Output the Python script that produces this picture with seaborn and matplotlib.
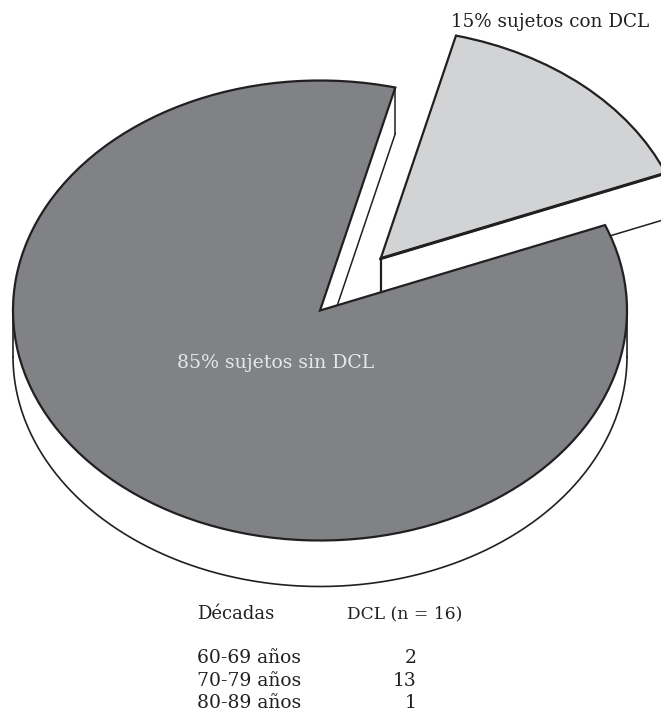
import numpy as np
import matplotlib
matplotlib.use("Agg")
import matplotlib.pyplot as plt
import seaborn as sns

shares = [15, 85]
share_labels = ["15% sujetos con DCL", "85% sujetos sin DCL"]
decades = ["60-69 años", "70-79 años", "80-89 años"]
dcl_counts = [2, 13, 1]
table_headers = ["Décadas", "DCL (n = 16)"]

W, H = 661, 712
sns.set_theme(style="white")
plt.rcParams["font.family"] = ["DejaVu Serif"]
palette = sns.color_palette(["#d1d3d4", "#808285"])
INK = "#231f20"
LW = 1.6
START = 21.8
EXPLODE = 0.3
RX, RY = 307.0, 230.0     # pixel size of one data unit
CX, CY = 320.0, 310.5     # pixel position of the pie centre
DEPTH = 46 / RY           # depth of the walls

fig = plt.figure(figsize=(W / 100, H / 100), dpi=100)
ax = fig.add_axes([0, 0, 1, 1])

wedges, _ = ax.pie(
    shares, colors=palette, startangle=START, explode=[EXPLODE, 0],
    wedgeprops=dict(edgecolor=INK, linewidth=LW), normalize=True,
)
ax.set_aspect("auto")
ax.set_xlim(-CX / RX, (W - CX) / RX)
ax.set_ylim((CY - H) / RY, CY / RY)
ax.set_axis_off()
for w in wedges:
    w.set_zorder(5)
    w.set_clip_on(True)

# Angles of the cuts follow from the shares
a1 = np.deg2rad(START)
a2 = np.deg2rad(START + shares[0] / sum(shares) * 360)
mid = (a1 + a2) / 2
ox, oy = EXPLODE * np.cos(mid), EXPLODE * np.sin(mid)

# Wall of the exploded slice (lower cut face)
rim_x, rim_y = ox + np.cos(a1), oy + np.sin(a1)
ax.fill([ox, rim_x, rim_x, ox], [oy, rim_y, rim_y - DEPTH, oy - DEPTH],
        facecolor="white", edgecolor="none", zorder=1)
ax.plot([ox, ox], [oy, oy - DEPTH], color=INK, lw=LW, zorder=2)
ax.plot([ox, rim_x], [oy - DEPTH, rim_y - DEPTH], color=INK, lw=1.1, zorder=2)
ax.plot([ox, rim_x], [oy, rim_y], color=INK, lw=2.2, zorder=6)

# Cut face of the large slice
ex, ey = np.cos(a2), np.sin(a2)
ax.fill([0, ex, ex, 0], [0, ey, ey - DEPTH, -DEPTH],
        facecolor="white", edgecolor="none", zorder=3)
ax.plot([ex, ex], [ey, ey - DEPTH], color=INK, lw=1.1, zorder=4)
ax.plot([0, ex], [-DEPTH, ey - DEPTH], color=INK, lw=1.1, zorder=4)

# Front rim wall of the large slice
t = np.linspace(np.pi, 2 * np.pi, 400)
ax.fill_between(np.cos(t), np.sin(t), np.sin(t) - DEPTH, color="white", lw=0, zorder=3)
ax.plot(np.cos(t), np.sin(t) - DEPTH, color=INK, lw=1.2, zorder=4)
for side in (-1, 1):
    ax.plot([side, side], [0, -DEPTH], color=INK, lw=1.2, zorder=4)

def px(x, y, s, size=13.2, **kw):
    fig.text(x / W, 1 - y / H, s, fontsize=size, va="center", **kw)

px(451, 22, share_labels[0], color=INK, ha="left", zorder=10)
px(177, 363, share_labels[1], size=13.6, color="#e6e7e8", ha="left", zorder=10)
px(197, 614, table_headers[0], size=13, color=INK, ha="left")
px(347, 614, table_headers[1], size=12.3, color=INK, ha="left")
for y, d, c in zip([658, 681, 703], decades, dcl_counts):
    px(197, y, d, size=13.5, color=INK, ha="left")
    px(417, y, str(c), size=13.5, color=INK, ha="right")

fig.savefig("out.png", dpi=100)
